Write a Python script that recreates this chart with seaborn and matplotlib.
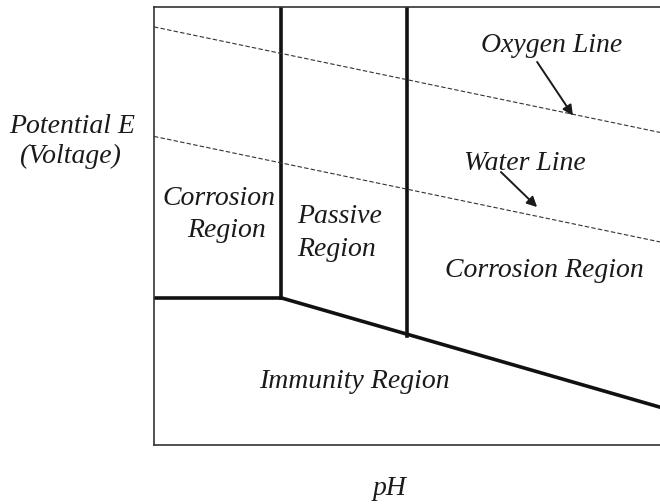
import matplotlib
matplotlib.use("Agg")
import matplotlib.pyplot as plt
import seaborn as sns
import pandas as pd

# --- data (pH on x, potential E in volts on y) ---
ph_min, ph_max = 0.0, 14.0
e_min, e_max = -1.0, 1.2

# region boundaries
passive_left_ph = 3.5
passive_right_ph = 7.0
corrosion_floor_e = -0.26          # bottom of acid corrosion box
immunity_ph = [3.5, 14.0]           # sloping immunity boundary
immunity_e = [-0.26, -0.81]

# dashed stability lines of water
oxygen_ph = [0.0, 14.0]
oxygen_e = [1.10, 0.57]
water_ph = [0.0, 14.0]
water_e = [0.55, 0.02]

# solid boundary segments: (pH, E) pairs
solid_segments = {
    "acid_wall": ([passive_left_ph, passive_left_ph], [corrosion_floor_e, e_max]),
    "alk_wall": ([passive_right_ph, passive_right_ph], [-0.45, e_max]),
    "acid_floor": ([ph_min, passive_left_ph], [corrosion_floor_e, corrosion_floor_e]),
    "immunity": (immunity_ph, immunity_e),
}

# labels: text, pH, E of baseline, horizontal alignment
region_labels = [
    ("Corrosion", 1.80, 0.205, "center"),
    ("Region", 2.00, 0.045, "center"),
    ("Passive", 3.96, 0.115, "left"),
    ("Region", 3.96, -0.050, "left"),
    ("Corrosion Region", 10.80, -0.156, "center"),
    ("Immunity Region", 5.55, -0.714, "center"),
    ("Oxygen Line", 11.01, 0.974, "center"),
    ("Water Line", 10.27, 0.381, "center"),
]

# arrows: (start pH, start E) -> (tip pH, tip E)
arrows = [
    ((10.60, 0.924), (11.59, 0.655)),
    ((9.60, 0.371), (10.60, 0.195)),
]

# --- plotting ---
sns.set_style("white")
plt.rcParams["font.family"] = ["Liberation Serif", "DejaVu Serif"]
plt.rcParams["font.style"] = "italic"

fig = plt.figure(figsize=(6.6, 5.04), dpi=100)
ax = fig.add_axes([154 / 660, 59 / 504, 506 / 660, 438 / 504])

for name, (xs, ys) in solid_segments.items():
    df = pd.DataFrame({"pH": xs, "E": ys})
    sns.lineplot(data=df, x="pH", y="E", ax=ax, color="#111111",
                 linewidth=2.6, sort=False, estimator=None,
                 solid_capstyle="projecting")

for xs, ys in [(oxygen_ph, oxygen_e), (water_ph, water_e)]:
    df = pd.DataFrame({"pH": xs, "E": ys})
    sns.lineplot(data=df, x="pH", y="E", ax=ax, color="#333333",
                 linewidth=0.8, dashes=False, estimator=None,
                 linestyle=(0, (4, 2)))

for text, x, y, ha in region_labels:
    ax.text(x, y, text, ha=ha, va="baseline", fontsize=20,
            style="italic", color="#1a1a1a")

for (x0, y0), (x1, y1) in arrows:
    ax.annotate("", xy=(x1, y1), xytext=(x0, y0),
                arrowprops=dict(arrowstyle="-|>", color="#1a1a1a",
                                lw=1.4, mutation_scale=15,
                                shrinkA=0, shrinkB=0))

ax.set_xlim(ph_min, ph_max)
ax.set_ylim(e_min, e_max)
ax.set_xticks([])
ax.set_yticks([])
ax.set_xlabel("")
ax.set_ylabel("")
for side in ["left", "top", "bottom"]:
    ax.spines[side].set_linewidth(1.2)
    ax.spines[side].set_color("#333333")
ax.spines["right"].set_visible(False)

fig.text(72 / 660, 1 - 133 / 504, "Potential E", ha="center", va="baseline",
         fontsize=20, style="italic", color="#1a1a1a")
fig.text(70 / 660, 1 - 163 / 504, "(Voltage)", ha="center", va="baseline",
         fontsize=20, style="italic", color="#1a1a1a")
fig.text(390 / 660, 1 - 495 / 504, "pH", ha="center", va="baseline",
         fontsize=20, style="italic", color="#1a1a1a")

fig.savefig("out.png", dpi=100)
